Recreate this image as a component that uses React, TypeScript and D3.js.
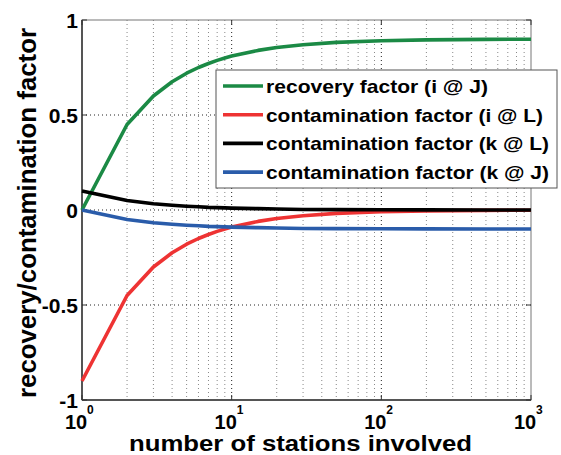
import React from "react";
import * as d3 from "d3";

const stations = [1, 2, 3, 4, 5, 6, 7, 8, 9, 10, 15, 20, 30, 50, 100, 200, 500, 1000];
const recoveryIJ = [0, 0.45, 0.6, 0.675, 0.72, 0.75, 0.771, 0.7875, 0.8, 0.81, 0.84, 0.855, 0.87, 0.882, 0.891, 0.8955, 0.898, 0.899];
const contamIL = [-0.9, -0.45, -0.3, -0.225, -0.18, -0.15, -0.129, -0.1125, -0.1, -0.09, -0.06, -0.045, -0.03, -0.018, -0.009, -0.0045, -0.002, -0.001];
const contamKL = [0.1, 0.05, 0.033, 0.025, 0.02, 0.017, 0.014, 0.0125, 0.011, 0.01, 0.007, 0.005, 0.003, 0.002, 0.001, 0.0005, 0.0002, 0.0001];
const contamKJ = [0, -0.05, -0.067, -0.075, -0.08, -0.083, -0.086, -0.0875, -0.089, -0.09, -0.093, -0.095, -0.097, -0.098, -0.099, -0.0995, -0.0998, -0.0999];

const seriesNames = [
  "recovery factor (i @ J)",
  "contamination factor (i @ L)",
  "contamination factor (k @ L)",
  "contamination factor (k @ J)",
];
const seriesColors = ["#1b8a45", "#ee3333", "#000000", "#2a5caa"];
const legendTextWidths = [222, 277, 283, 283];
const yTicks = [-1, -0.5, 0, 0.5, 1];
const yTickLabels = ["-1", "-0.5", "0", "0.5", "1"];
const xDecades = [1, 10, 100, 1000];
const xExponents = ["0", "1", "2", "3"];

export default function App() {
  const W = 561, H = 455;
  const left = 82, right = 531, top = 20, bottom = 400;
  const x = d3.scaleLog().domain([1, 1000]).range([left, right]);
  const y = d3.scaleLinear().domain([-1, 1]).range([bottom, top]);
  const series = [recoveryIJ, contamIL, contamKL, contamKJ];
  const line = d3
    .line<[number, number]>()
    .x((d) => x(d[0]))
    .y((d) => y(d[1]));

  const minor: number[] = [];
  for (const dec of [1, 10, 100]) {
    for (let k = 2; k <= 9; k++) minor.push(dec * k);
  }
  const font = "'Liberation Sans', Arial, sans-serif";

  return (
    <svg width={W} height={H} style={{ position: "absolute", left: 0, top: 0, background: "#fff" }} fontFamily={font}>
      <rect x={0} y={0} width={W} height={H} fill="#fff" />
      {/* grid */}
      {minor.map((v) => (
        <line key={"m" + v} x1={x(v)} x2={x(v)} y1={top} y2={bottom} stroke="#888" strokeWidth={1} strokeDasharray="1,3" />
      ))}
      {xDecades.slice(1, 3).map((v) => (
        <line key={"M" + v} x1={x(v)} x2={x(v)} y1={top} y2={bottom} stroke="#222" strokeWidth={1} strokeDasharray="1,3" />
      ))}
      {yTicks.slice(1, 4).map((v) => (
        <line key={"y" + v} x1={left} x2={right} y1={y(v)} y2={y(v)} stroke="#222" strokeWidth={1} strokeDasharray="1,3" />
      ))}
      {/* axes box */}
      <rect x={left} y={top} width={right - left} height={bottom - top} fill="none" stroke="#777" strokeWidth={1} />
      <line x1={left} x2={left} y1={top} y2={bottom} stroke="#333" strokeWidth={1.5} />
      <line x1={left} x2={right} y1={bottom} y2={bottom} stroke="#333" strokeWidth={1.5} />
      {/* ticks */}
      {yTicks.map((v) => (
        <g key={"yt" + v}>
          <line x1={left} x2={left + 5} y1={y(v)} y2={y(v)} stroke="#333" />
          <line x1={right} x2={right - 5} y1={y(v)} y2={y(v)} stroke="#333" />
        </g>
      ))}
      {xDecades.map((v) => (
        <g key={"xt" + v}>
          <line x1={x(v)} x2={x(v)} y1={bottom} y2={bottom - 5} stroke="#333" />
          <line x1={x(v)} x2={x(v)} y1={top} y2={top + 5} stroke="#333" />
        </g>
      ))}
      {/* series */}
      {series.map((vals, i) => (
        <path
          key={"s" + i}
          d={line(stations.map((s, j) => [s, vals[j]] as [number, number])) || ""}
          fill="none"
          stroke={seriesColors[i]}
          strokeWidth={3.6}
          strokeLinejoin="round"
        />
      ))}
      {/* y tick labels */}
      {yTicks.map((v, i) => (
        <text key={"yl" + v} x={left - 4} y={y(v)} dy="0.36em" textAnchor="end" fontSize={21} fontWeight="bold">
          {yTickLabels[i]}
        </text>
      ))}
      {/* x tick labels */}
      {xDecades.map((v, i) => (
        <g key={"xl" + v}>
          <text x={x(v) - 6} y={429} textAnchor="middle" fontSize={20} fontWeight="bold">
            10
          </text>
          <text x={x(v) + 5} y={414} textAnchor="start" fontSize={12} fontWeight="bold">
            {xExponents[i]}
          </text>
        </g>
      ))}
      {/* axis titles */}
      <text x={129} y={451} textAnchor="start" fontSize={21.5} fontWeight="bold" textLength={343} lengthAdjust="spacingAndGlyphs">
        number of stations involved
      </text>
      <text
        transform={`translate(36,398) rotate(-90)`}
        textAnchor="start"
        fontSize={25}
        fontWeight="bold"
        textLength={370}
        lengthAdjust="spacingAndGlyphs"
      >
        recovery/contamination factor
      </text>
      {/* legend */}
      <rect x={216} y={70} width={341} height={118} fill="#fff" stroke="#555" strokeWidth={1} />
      {seriesNames.map((name, i) => (
        <g key={"lg" + i}>
          <line x1={223} x2={263} y1={86 + i * 28.7} y2={86 + i * 28.7} stroke={seriesColors[i]} strokeWidth={3.6} />
          <text
            x={266}
            y={86 + i * 28.7}
            dy="0.36em"
            fontSize={19}
            fontWeight="bold"
            textLength={legendTextWidths[i]}
            lengthAdjust="spacingAndGlyphs"
          >
            {name}
          </text>
        </g>
      ))}
    </svg>
  );
}
